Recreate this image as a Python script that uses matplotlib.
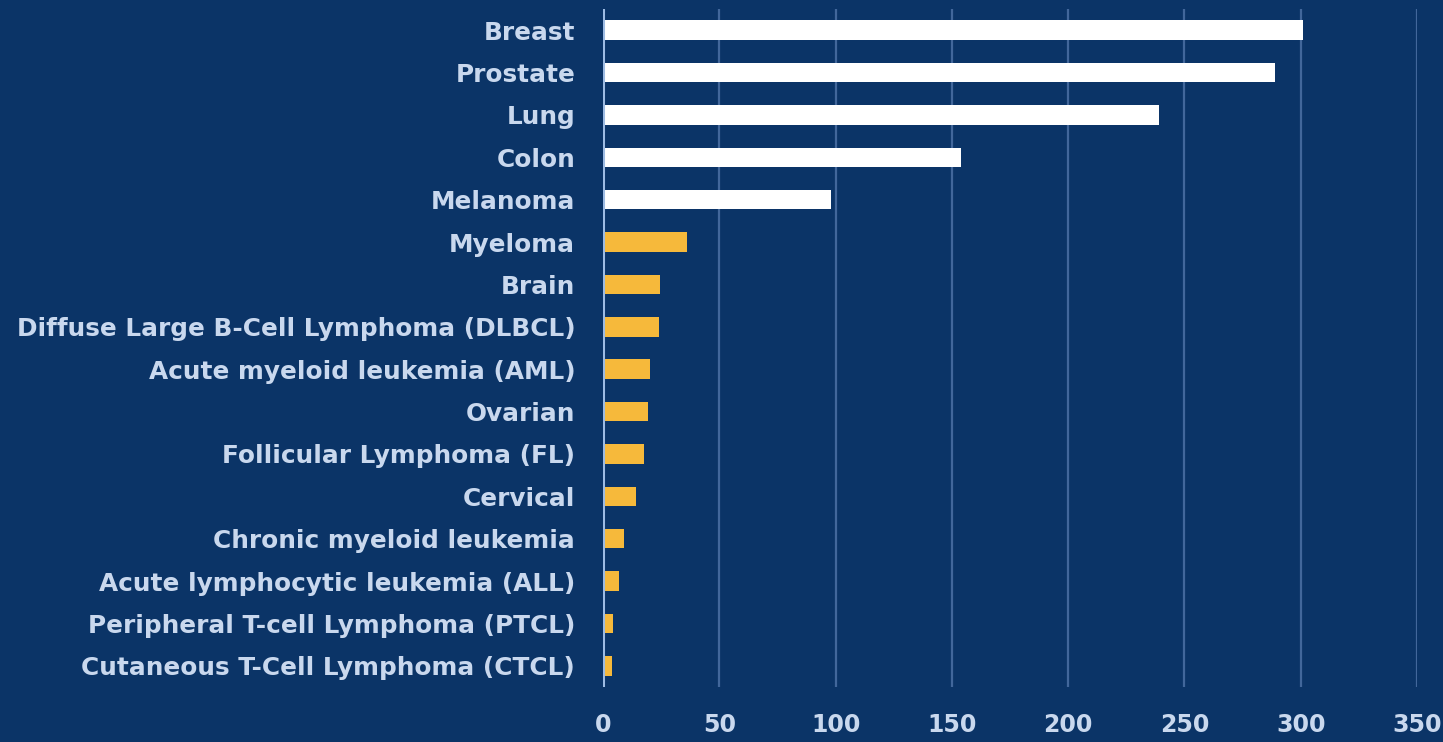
import matplotlib
matplotlib.use("Agg")
import matplotlib.pyplot as plt

categories = [
    "Breast", "Prostate", "Lung", "Colon", "Melanoma", "Myeloma", "Brain",
    "Diffuse Large B-Cell Lymphoma (DLBCL)", "Acute myeloid leukemia (AML)",
    "Ovarian", "Follicular Lymphoma (FL)", "Cervical",
    "Chronic myeloid leukemia", "Acute lymphocytic leukemia (ALL)",
    "Peripheral T-cell Lymphoma (PTCL)", "Cutaneous T-Cell Lymphoma (CTCL)",
]
values = [301, 289, 239, 154, 98, 36, 24.5, 24, 20, 19.5, 17.5, 14, 9, 7, 4.5, 4]
highlight = [True] * 5 + [False] * 11
x_ticks = [0, 50, 100, 150, 200, 250, 300, 350]

BG = "#0b3467"
TEXT = "#c9d8ee"
WHITE = "#ffffff"
GOLD = "#f6b93b"
GRID = "#42679b"
ZERO = "#9dbbe3"

plt.rcParams["font.family"] = ["DejaVu Sans"]

fig = plt.figure(figsize=(14.43, 7.42), dpi=100, facecolor=BG)
ax = fig.add_axes([603 / 1443, 1 - 687 / 742, (1417 - 603) / 1443, (687 - 9) / 742])
ax.set_facecolor(BG)

ypos = list(range(len(categories)))
colors = [WHITE if h else GOLD for h in highlight]
ax.barh(ypos, values, height=0.46, color=colors, zorder=3)

ax.set_xlim(0, 350)
ax.set_ylim(len(categories) - 0.5, -0.5)
ax.set_xticks(x_ticks)
ax.set_xticklabels([str(t) for t in x_ticks])
ax.set_yticks(ypos)
ax.set_yticklabels(categories)

for t in x_ticks[1:]:
    ax.axvline(t, color=GRID, lw=1.6, zorder=1)
ax.axvline(0, color=ZERO, lw=2.2, zorder=4)

for s in ax.spines.values():
    s.set_visible(False)

ax.tick_params(axis="y", length=0, pad=20, labelsize=17.8, labelcolor=TEXT)
ax.tick_params(axis="x", length=0, pad=19, labelsize=17, labelcolor=TEXT)
for lab in ax.get_yticklabels() + ax.get_xticklabels():
    lab.set_fontweight("bold")

fig.savefig("out.png", dpi=100, facecolor=BG)
